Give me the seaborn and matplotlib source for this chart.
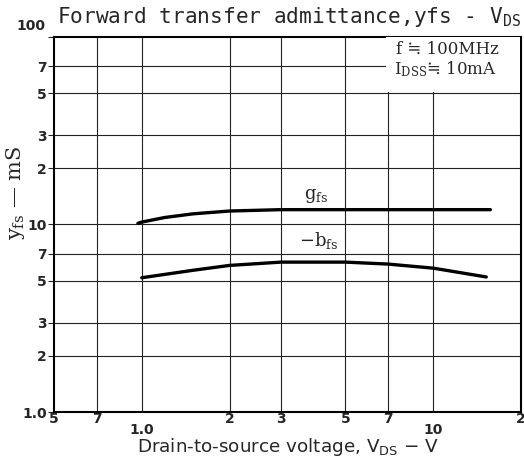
import matplotlib
matplotlib.use("Agg")
import matplotlib.pyplot as plt
import seaborn as sns
import pandas as pd
from matplotlib.patches import Rectangle
from matplotlib.ticker import FixedLocator, NullFormatter, FixedFormatter

# ---- data ----
vds_gfs = [0.97, 1.0, 1.2, 1.5, 2.0, 3.0, 5.0, 10.0, 15.7]
gfs = [10.15, 10.3, 10.9, 11.4, 11.8, 12.0, 12.0, 12.0, 12.0]
vds_bfs = [1.0, 1.5, 2.0, 3.0, 5.0, 7.0, 10.0, 15.2]
bfs = [5.2, 5.7, 6.05, 6.3, 6.3, 6.15, 5.85, 5.25]

x_major = [0.5, 0.7, 2, 3, 5, 7, 20]
x_major_labels = ["5", "7", "2", "3", "5", "7", "2"]
x_minor = [1.0, 10.0]
x_minor_labels = ["1.0", "10"]
y_ticks = [1, 2, 3, 5, 7, 10, 20, 30, 50, 70, 100]
y_labels = ["1.0", "2", "3", "5", "7", "10", "2", "3", "5", "7", ""]
x_grid = [0.7, 1, 2, 3, 5, 7, 10]
y_grid = [2, 3, 5, 7, 10, 20, 30, 50, 70]

df = pd.concat([
    pd.DataFrame({"VDS": vds_gfs, "y": gfs, "series": "gfs"}),
    pd.DataFrame({"VDS": vds_bfs, "y": bfs, "series": "-bfs"}),
])

sns.set_style("white")
plt.rcParams["mathtext.fontset"] = "custom"
plt.rcParams["mathtext.rm"] = "DejaVu Serif"
plt.rcParams["mathtext.sf"] = "DejaVu Sans"
plt.rcParams["mathtext.tt"] = "DejaVu Sans Mono"

fig = plt.figure(figsize=(5.24, 4.65), dpi=100)
ax = fig.add_axes([54/524, 1-412/465, 467/524, 375/465])

sns.lineplot(data=df, x="VDS", y="y", hue="series", palette=["black", "black"],
             linewidth=2.4, legend=False, ax=ax, zorder=5, sort=False)

ax.set_xscale("log")
ax.set_yscale("log")
ax.set_xlim(0.5, 20)
ax.set_ylim(1, 100)

for xv in x_grid:
    ax.axvline(xv, color="#222222", lw=0.8, zorder=1)
for yv in y_grid:
    ax.axhline(yv, color="#222222", lw=0.8, zorder=1)

ax.xaxis.set_major_locator(FixedLocator(x_major))
ax.xaxis.set_major_formatter(FixedFormatter(x_major_labels))
ax.xaxis.set_minor_locator(FixedLocator(x_minor))
ax.xaxis.set_minor_formatter(FixedFormatter(x_minor_labels))
ax.yaxis.set_major_locator(FixedLocator(y_ticks))
ax.yaxis.set_major_formatter(FixedFormatter(y_labels))
ax.yaxis.set_minor_locator(FixedLocator([]))
ax.yaxis.set_minor_formatter(NullFormatter())

ax.tick_params(axis="x", which="major", length=0, pad=0, labelsize=10)
ax.tick_params(axis="x", which="minor", length=0, pad=8, labelsize=10)
ax.tick_params(axis="y", which="major", length=4, width=0.8, pad=1, labelsize=10, left=True)
for lab in ax.get_xticklabels(which="both") + ax.get_yticklabels():
    lab.set_fontweight("bold")
    lab.set_family("DejaVu Sans")

for s in ax.spines.values():
    s.set_color("black")
    s.set_linewidth(1.5)

# white box for conditions
ax.add_patch(Rectangle((0.711, 0.853), 0.287, 0.147, transform=ax.transAxes,
                       facecolor="white", edgecolor="none", zorder=3))
ax.text(0.733, 0.966, "f ≒ 100MHz", transform=ax.transAxes, fontsize=12,
        family="DejaVu Serif", va="center", ha="left", zorder=4)
ax.text(0.728, 0.913, r"I$\mathrm{_{DSS}}$≒ 10mA", transform=ax.transAxes, fontsize=12,
        family="DejaVu Serif", va="center", ha="left", zorder=4)

ax.text(3.6, 14.2, r"$\mathrm{g_{fs}}$", fontsize=13, va="center", ha="left", zorder=4)
ax.text(3.45, 8.2, r"$\mathrm{-b_{fs}}$", fontsize=13, va="center", ha="left", zorder=4)

ax.set_xlabel(r"Drain-to-source voltage, $\mathsf{V_{DS}}$ − V", fontsize=13.2,
              family="DejaVu Sans")
ax.xaxis.set_label_coords(0.5, -0.065)
ax.set_ylabel(r"$\mathrm{y_{fs}}$ — mS", fontsize=15, family="DejaVu Serif")
ax.yaxis.set_label_coords(-0.058, 0.585)

ax.text(0.006, 1.022, r"Forward transfer admittance,yfs - V$\mathtt{_{DS}}$",
        transform=ax.transAxes, fontsize=15.2, family="DejaVu Sans Mono",
        va="bottom", ha="left")
ax.text(-0.018, 1.028, "100", transform=ax.transAxes, fontsize=10, fontweight="bold",
        ha="right", va="center")

fig.savefig("out.png", dpi=100)
